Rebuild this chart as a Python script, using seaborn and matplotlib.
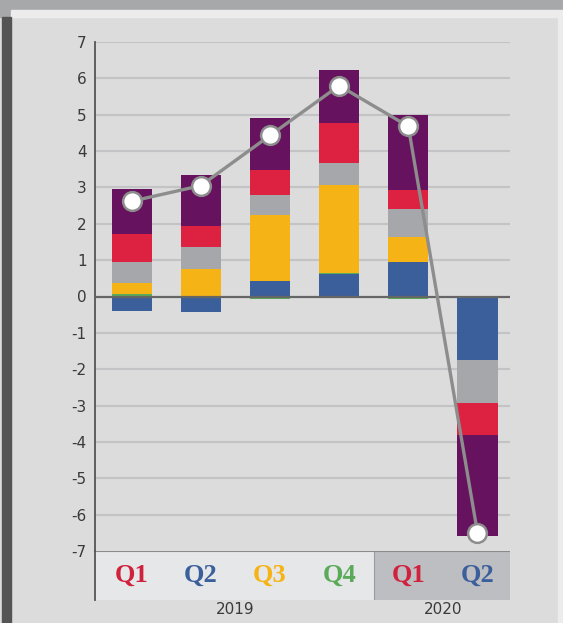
import numpy as np
import pandas as pd
import seaborn as sns
import matplotlib.pyplot as plt
from matplotlib.patches import Rectangle

# data
quarters = ["Q1", "Q2", "Q3", "Q4", "Q1", "Q2"]
years = ["2019", "2020"]
blue = [-0.40, -0.43, 0.44, 0.63, 0.96, -1.76]
green = [0.08, 0.00, -0.08, 0.02, -0.07, 0.00]
yellow = [0.28, 0.77, 1.80, 2.42, 0.67, 0.00]
grey = [0.58, 0.58, 0.54, 0.61, 0.79, -1.16]
red = [0.79, 0.58, 0.69, 1.10, 0.52, -0.88]
purple = [1.24, 1.40, 1.43, 1.46, 2.06, -2.79]
total = [2.62, 3.05, 4.43, 5.80, 4.68, -6.50]

components = {
    "blue": (blue, "#3b5f9b"),
    "green": (green, "#5aaa5a"),
    "yellow": (yellow, "#f5b316"),
    "grey": (grey, "#a6a7aa"),
    "red": (red, "#dc2240"),
    "purple": (purple, "#66125e"),
}
q_colors = ["#d0213d", "#3b5f9b", "#f5b316", "#5aaa5a", "#d0213d", "#3b5f9b"]

sns.set_style("white")
plt.rcParams["font.family"] = ["DejaVu Sans"]

W, H = 563, 623
fig = plt.figure(figsize=(W / 100, H / 100), dpi=100)
fig.patch.set_facecolor("#dcdcdc")

# frame decorations
fig.patches.append(Rectangle((0, 1 - 10 / H), 1, 10 / H, transform=fig.transFigure,
                             color="#a7a8a9", zorder=0))
fig.patches.append(Rectangle((0, 1 - 17 / H), 11 / W, 7 / H, transform=fig.transFigure,
                             color="#a7a8a9", zorder=0))
fig.patches.append(Rectangle((11 / W, 1 - 17 / H), 1, 7 / H, transform=fig.transFigure,
                             color="#ececec", zorder=0))
fig.patches.append(Rectangle((2 / W, 0), 9 / W, 1 - 17 / H, transform=fig.transFigure,
                             color="#545454", zorder=0))
fig.patches.append(Rectangle((558 / W, 0), 5 / W, 1 - 17 / H, transform=fig.transFigure,
                             color="#ececec", zorder=0))

left, right = 95 / W, 510 / W
ax = fig.add_axes([left, 1 - 551 / H, right - left, (551 - 42) / H])
ax.set_facecolor("none")

x = np.arange(len(quarters))
pos_base = np.zeros(len(x))
neg_base = np.zeros(len(x))
for name, (vals, col) in components.items():
    vals = np.array(vals)
    bottoms = np.where(vals >= 0, pos_base, neg_base)
    ax.bar(x, vals, bottom=bottoms, width=0.58, color=col, zorder=3, linewidth=0)
    pos_base += np.clip(vals, 0, None)
    neg_base += np.clip(vals, None, 0)

df = pd.DataFrame({"x": x, "total": total})
sns.lineplot(data=df, x="x", y="total", ax=ax, color="#8d8d8d", lw=2.4,
             marker="o", markersize=13.5, markerfacecolor="white",
             markeredgecolor="#8d8d8d", markeredgewidth=1.8, zorder=5)

ax.set_xlim(-0.53, 5.47)
ax.set_ylim(-7, 7)
ax.set_yticks(range(-7, 8))
ax.set_yticklabels([str(v) for v in range(-7, 8)])
ax.set_xticks([])
ax.set_xlabel("")
ax.set_ylabel("")
for v in range(-6, 8):
    if v != 0:
        ax.axhline(v, color="#c3c3c5", lw=1.5, zorder=1)
ax.axhline(0, color="#666666", lw=1.6, zorder=4)
for s in ["top", "right", "bottom"]:
    ax.spines[s].set_visible(False)
ax.spines["left"].set_color("#555555")
ax.spines["left"].set_linewidth(1.3)
ax.tick_params(axis="y", length=0, pad=6, labelsize=11, labelcolor="#3a3a3a")

# quarter band below the plot
band = fig.add_axes([left, 1 - 600 / H, right - left, 49 / H])
band.set_xlim(-0.53, 5.47)
band.set_ylim(0, 1)
band.axvspan(-0.53, 3.5, color="#e6e7e8", lw=0)
band.axvspan(3.5, 5.47, color="#bdbec2", lw=0)
band.axvline(3.5, color="#9a9b9e", lw=0.8)
band.axhline(1, color="#8a8a8a", lw=1.5)
for s in ["top", "right", "bottom"]:
    band.spines[s].set_visible(False)
band.spines["left"].set_color("#555555")
band.spines["left"].set_linewidth(1.3)
band.set_xticks([])
band.set_yticks([])
for i, (q, c) in enumerate(zip(quarters, q_colors)):
    band.text(i, 0.5, q, color=c, ha="center", va="center", fontsize=19,
              fontweight="bold", family=["Liberation Serif", "DejaVu Serif"])
band.text(1.5, -0.2, years[0], ha="center", va="center", fontsize=11, color="#3a3a3a")
band.text(4.5, -0.2, years[1], ha="center", va="center", fontsize=11, color="#3a3a3a")

fig.savefig("out.png", dpi=100, facecolor=fig.get_facecolor())
